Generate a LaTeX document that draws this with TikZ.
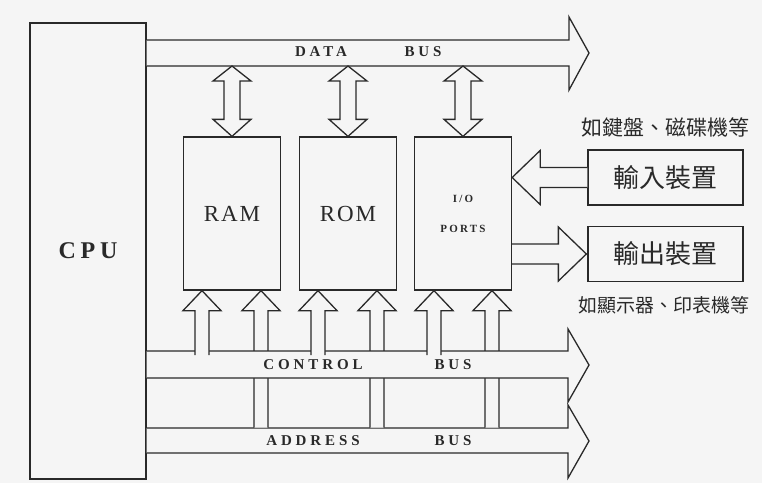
\documentclass[tikz,border=0pt]{standalone}
\usepackage{fontspec}
\setmainfont{Liberation Serif}
\newfontfamily\cjk{Noto Sans CJK TC}
\usepackage{tikz}
\usetikzlibrary{calc}

\definecolor{paper}{gray}{0.96}
\definecolor{ink}{gray}{0.16}

% hollow arrow up from a bus into the bottom of a box
\newcommand{\fatup}[3]{%
  \filldraw[fat] let \p1=($(#1.south)+(#2,0)$), \p2=(#3) in
    (\x1-7pt,\y2) -- (\x1-7pt,\y1-20pt) -- (\x1-19pt,\y1-20pt) -- (\p1)
    -- (\x1+19pt,\y1-20pt) -- (\x1+7pt,\y1-20pt) -- (\x1+7pt,\y2);
}
% hollow double arrow between data bus and the top of a box
\newcommand{\fatboth}[2]{%
  \filldraw[fat] let \p1=(#1.north), \p2=(#2) in
    (\x1,\y2) -- (\x1+19pt,\y2-15pt) -- (\x1+8pt,\y2-15pt) -- (\x1+8pt,\y1+17pt)
    -- (\x1+19pt,\y1+17pt) -- (\p1) -- (\x1-19pt,\y1+17pt) -- (\x1-8pt,\y1+17pt)
    -- (\x1-8pt,\y2-15pt) -- (\x1-19pt,\y2-15pt) -- cycle;
}

\begin{document}
\begin{tikzpicture}[
    x=1pt, y=-1pt,
    color=ink,
    box/.style={draw=ink, fill=paper, line width=1.3pt, inner sep=0pt},
    mem/.style={box, minimum width=97pt, minimum height=153pt,
        font=\fontsize{23}{23}\selectfont\addfontfeature{LetterSpace=8}},
    dev/.style={box, minimum width=155pt, minimum height=55pt,
        font=\cjk\fontsize{26}{26}\selectfont},
    note/.style={inner sep=0pt},
    buslabel/.style={inner sep=0pt,
        font=\fontsize{15}{15}\selectfont\bfseries\addfontfeature{LetterSpace=26}},
    fat/.style={draw=ink, fill=paper, line width=1.3pt, line join=miter}
]
\useasboundingbox (0,0) rectangle (762,483);
\fill[paper] (0,0) rectangle (762,483);

\node[box, minimum width=116pt, minimum height=456pt,
    font=\fontsize{24}{24}\selectfont\bfseries\addfontfeature{LetterSpace=20}] (cpu) at (88,251) {CPU};

\node[mem] (ram) at (232,213.5) {RAM};
\node[mem] (rom) at (348,213.5) {ROM};
\node[mem, align=center,
    font=\fontsize{11}{30}\selectfont\bfseries\addfontfeature{LetterSpace=20}] (io) at (463,213.5) {I/O\\PORTS};

\node[dev] (indev) at (665.5,177.5) {輸入裝置};
\node[dev] (outdev) at (665.5,254) {輸出裝置};
\node[note, font=\cjk\fontsize{21}{21}\selectfont] (inlbl) at (665,127) {如鍵盤、磁碟機等};
\node[note, font=\cjk\fontsize{19}{19}\selectfont] (outlbl) at (664,305) {如顯示器、印表機等};

\coordinate (dbus) at (0,66);
\coordinate (cbus) at (0,355);
\coordinate (abus) at (0,427.5);

% address bus
\filldraw[fat] (cpu.east |- 0,428) -- (568,428) -- (568,405) -- (589,441)
    -- (568,478) -- (568,453) -- (cpu.east |- 0,453);
\fatup{ram}{29}{abus}
\fatup{rom}{29}{abus}
\fatup{io}{29}{abus}

% control bus
\filldraw[fat] (cpu.east |- 0,351) -- (568,351) -- (568,329) -- (589,365)
    -- (568,402) -- (568,378) -- (cpu.east |- 0,378);
\fatup{ram}{-30}{cbus}
\fatup{rom}{-30}{cbus}
\fatup{io}{-29}{cbus}

% data bus
\filldraw[fat] (cpu.east |- 0,40) -- (569,40) -- (569,17) -- (589,53)
    -- (569,90) -- (569,66) -- (cpu.east |- 0,66);
\fatboth{ram}{dbus}
\fatboth{rom}{dbus}
\fatboth{io}{dbus}

% devices
\filldraw[fat] let \p1=(indev.west), \p2=(io.east) in
    (\x1,\y1+10pt) -- (\x2+28pt,\y1+10pt) -- (\x2+28pt,\y1+27pt) -- (\x2,\y1)
    -- (\x2+28pt,\y1-27pt) -- (\x2+28pt,\y1-10pt) -- (\x1,\y1-10pt);
\filldraw[fat] let \p1=(io.east), \p2=(outdev.west) in
    (\x1,\y2+10pt) -- (\x2-29pt,\y2+10pt) -- (\x2-29pt,\y2+27pt) -- (\x2-1pt,\y2)
    -- (\x2-29pt,\y2-27pt) -- (\x2-29pt,\y2-10pt) -- (\x1,\y2-10pt);

\node[buslabel] (datat) at (321,52) {DATA};
\node[buslabel] (datab) at (423,52) {BUS};
\node[buslabel] (ctlt) at (313,365) {CONTROL};
\node[buslabel] (ctlb) at (453,365) {BUS};
\node[buslabel] (adrt) at (313,441) {ADDRESS};
\node[buslabel] (adrb) at (453,441) {BUS};
\end{tikzpicture}
\end{document}
